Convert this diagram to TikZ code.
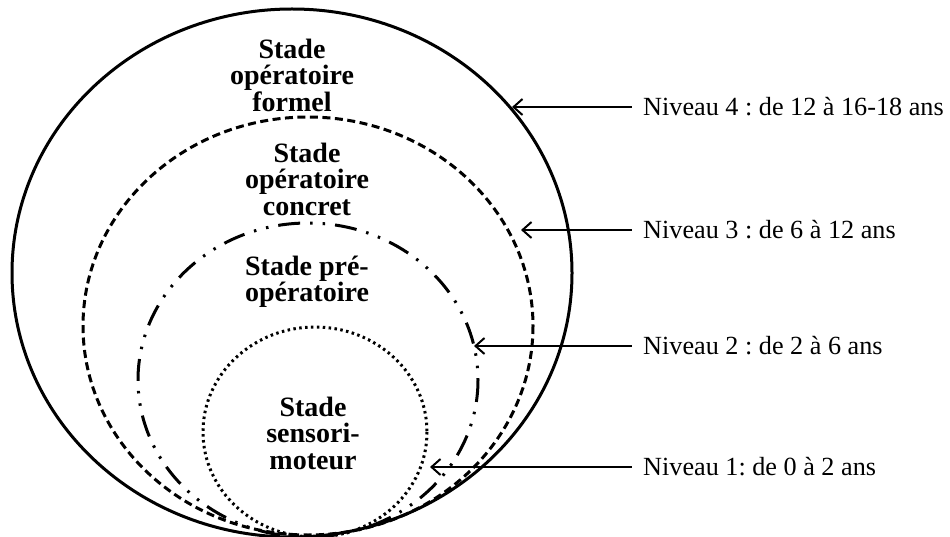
\documentclass[tikz,border=0pt]{standalone}
\usepackage{fontspec}
\setmainfont{Liberation Serif}
\usetikzlibrary{arrows.meta}
\frenchspacing
\begin{document}
\begin{tikzpicture}[x=1pt,y=-1pt,
  stage/.style={font=\fontsize{28}{26.5}\selectfont\bfseries, align=center, inner sep=0pt},
  lvl/.style={font=\fontsize{26.2}{26}\selectfont, anchor=west, inner sep=0pt},
  ring/.style={line width=3pt},
  pointer/.style={line width=2.2pt, {Straight Barb[length=9pt,width=16pt,line width=2pt]}-}]
\useasboundingbox (0,0) rectangle (950,537);
% rings
\draw[ring] (292,273) ellipse [x radius=280, y radius=264];
\draw[ring, dash pattern=on 8pt off 4.5pt] (308,326) ellipse [x radius=225, y radius=209];
\draw[ring, dash pattern=on 22pt off 10pt on 2.5pt off 10pt on 2.5pt off 10pt] (308,380) ellipse [x radius=170, y radius=157];
\draw[ring, dash pattern=on 2.5pt off 3.4pt] (315,432) ellipse [x radius=112, y radius=105];
% stage names
\node[stage] (s4) at (292,75) {Stade\\opératoire\\formel};
\node[stage] (s3) at (307,179) {Stade\\opératoire\\concret};
\node[stage] (s2) at (307,282) {Stade pré-\\opératoire};
\node[stage] (s1) at (313,433) {Stade\\sensori-\\moteur};
% level labels
\node[lvl] (l4) at (643,107) {Niveau 4 : de 12 à 16-18 ans};
\node[lvl] (l3) at (643,230) {Niveau 3 : de 6 à 12 ans};
\node[lvl] (l2) at (643,346) {Niveau 2 : de 2 à 6 ans};
\node[lvl] (l1) at (643,467) {Niveau 1: de 0 à 2 ans};
% arrow tips
\coordinate (t4) at (512,107);
\coordinate (t3) at (521,230);
\coordinate (t2) at (474,346);
\coordinate (t1) at (430,467);
\draw[pointer] (t4) -- ([xshift=-11pt]l4.west);
\draw[pointer] (t3) -- ([xshift=-11pt]l3.west);
\draw[pointer] (t2) -- ([xshift=-11pt]l2.west);
\draw[pointer] (t1) -- ([xshift=-11pt]l1.west);
\end{tikzpicture}
\end{document}
